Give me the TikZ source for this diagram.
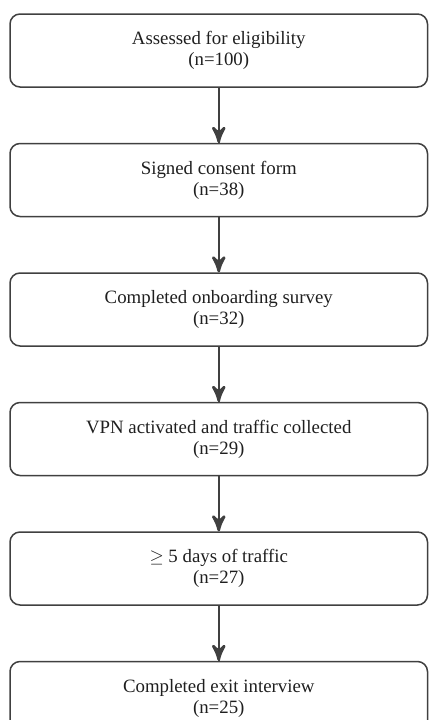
\documentclass[tikz,border=0pt]{standalone}
\usepackage{amsmath}
\usepackage{amssymb}
\usepackage{fontspec}
\setmainfont{Liberation Serif}
\usepackage{tikz}
\usetikzlibrary{arrows}
\usetikzlibrary{decorations.markings}
\usetikzlibrary{positioning}
\tikzset{flow/.style = {decoration={markings,
                                    mark=at position 1 with {\arrow[scale=1.7]{stealth'}}},
                        postaction={decorate}}}
\tikzset{stage/.style = {draw=boxgray, line width=0.9pt, rounded corners=6pt,
                         minimum width=250.5pt, minimum height=43.8pt,
                         align=center, text=textgray,
                         font=\fontsize{11.3}{12.6}\selectfont}}
\definecolor{boxgray}{rgb}{0.25, 0.25, 0.25}
\definecolor{textgray}{rgb}{0.12, 0.12, 0.12}

\begin{document}
\begin{tikzpicture}[node distance=33pt]
      \useasboundingbox (0, 0) rectangle (257.4pt, -432pt);

      \node [stage] (assessed) at (131.25pt, -30.3pt) {Assessed for eligibility\\(n=100)};
      \node [stage, below=of assessed] (consent) {Signed consent form\\(n=38)};
      \node [stage, below=of consent] (onboard) {Completed onboarding survey\\(n=32)};
      \node [stage, below=of onboard] (vpn) {VPN activated and traffic collected\\(n=29)};
      \node [stage, below=of vpn] (days) {$\geq$ 5 days of traffic\\(n=27)};
      \node [stage, below=of days] (exit) {Completed exit interview\\(n=25)};

      \foreach \a/\b in {assessed/consent, consent/onboard, onboard/vpn, vpn/days, days/exit}
        \draw [flow, boxgray, line width=1pt] (\a) -- (\b);
    \end{tikzpicture}
\end{document}
